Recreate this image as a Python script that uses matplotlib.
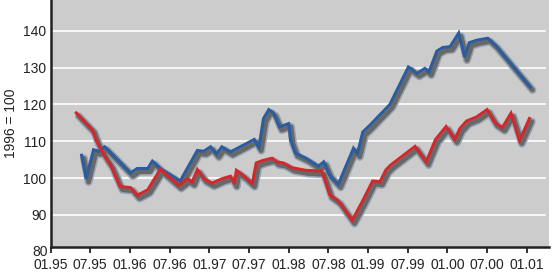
import numpy as np
import matplotlib
matplotlib.use('Agg')
import matplotlib.pyplot as plt
from matplotlib.transforms import offset_copy

plt.rcParams['font.family'] = ['Liberation Sans', 'DejaVu Sans']

# months since January 1995
blue_x = [4.7, 5.4, 6.5, 7.3, 8.2, 12.1, 13.1, 14.7, 15.4, 16.6, 19.6, 22.2, 23.2, 24.2,
          25.1, 25.9, 27.2, 30.8, 31.5, 32.2, 33.0, 33.7, 34.6, 36.0, 36.3, 37.0, 38.7,
          40.5, 41.3, 42.1, 43.5, 45.8, 46.4, 47.2, 48.3, 51.3, 54.1, 55.4, 56.6, 57.2,
          58.4, 59.3, 60.4, 61.7, 62.6, 63.3, 64.5, 66.1, 67.2, 72.5]
blue_y = [106.2, 99.8, 107.7, 107.3, 108.5, 101.4, 102.6, 102.6, 104.6, 102.6, 99.2, 107.5,
          107.3, 108.5, 106.5, 108.5, 107.1, 110.5, 108.3, 116.2, 118.6, 117.7, 113.9, 114.8,
          110.3, 106.8, 105.3, 103.2, 104.4, 101.0, 98.3, 108.1, 106.6, 112.5, 114.4, 120.0,
          130.2, 128.5, 129.8, 128.8, 134.5, 135.5, 135.7, 139.4, 132.9, 136.8, 137.5, 138.0,
          136.2, 124.8]

red_x = [3.9, 6.3, 6.9, 7.7, 8.3, 9.1, 10.5, 12.1, 13.1, 14.7, 16.6, 19.4, 20.7, 21.4, 22.2,
         23.2, 24.4, 25.9, 27.2, 27.8, 28.1, 29.3, 30.5, 31.1, 32.1, 33.5, 34.2, 35.2, 36.5,
         38.6, 41.0, 41.5, 42.2, 43.5, 45.6, 47.1, 48.7, 49.8, 50.7, 51.4, 55.1, 56.8, 58.2,
         59.8, 61.1, 61.9, 62.9, 64.4, 66.0, 67.2, 68.3, 69.6, 70.9, 72.4]
red_y = [117.7, 113.2, 110.3, 107.5, 105.7, 103.5, 97.7, 97.4, 95.3, 96.8, 102.4, 98.0, 99.8,
         98.9, 102.3, 99.8, 98.6, 99.8, 100.5, 98.5, 102.1, 100.5, 98.5, 104.1, 104.8, 105.4,
         104.4, 104.1, 102.8, 102.1, 101.9, 99.4, 95.5, 93.8, 88.5, 93.5, 99.2, 99.0, 102.2,
         103.5, 108.6, 104.4, 110.5, 114.0, 110.5, 113.5, 115.5, 116.6, 118.6, 115.0, 113.7,
         117.6, 110.2, 116.2]

tick_months = list(range(0, 73, 6))
tick_labels = ['01.95', '07.95', '01.96', '07.96', '01.97', '07.97', '01.98', '07.98',
               '01.99', '07.99', '01.00', '07.00', '01.01']
y_ticks = [90, 100, 110, 120, 130, 140]

W, H = 553, 280
fs = 10
fig = plt.figure(figsize=(W / 100, H / 100), dpi=100)
ax = fig.add_axes([50.5 / W, (H - 246.5) / H, (549.3 - 50.5) / W, 246.5 / H])
ax.set_facecolor('#cccccc')
ax.set_xlim(0, 75.4)
ax.set_ylim(81.4, 148.4)

for yv in y_ticks:
    ax.axhline(yv, xmin=0.006, xmax=0.991, color='white', lw=1.2, zorder=1)

# drop shadows
shadow = offset_copy(ax.transData, fig=fig, x=2.4, y=-3.2, units='dots')
for xs, ys in [(blue_x, blue_y), (red_x, red_y)]:
    ax.plot(xs, ys, color='#97a3b2', lw=5.6, transform=shadow, zorder=2,
            solid_joinstyle='round', solid_capstyle='round')
for xs, ys in [(blue_x, blue_y), (red_x, red_y)]:
    ax.plot(xs, ys, color='#686868', lw=3.4, transform=shadow, zorder=3,
            solid_joinstyle='round', solid_capstyle='round')

ax.plot(blue_x, blue_y, color='#2b5d9e', lw=2.2, zorder=4, solid_joinstyle='miter')
ax.plot(red_x, red_y, color='#d3282b', lw=2.2, zorder=5, solid_joinstyle='miter')

ax.set_xticks(tick_months)
ax.set_xticklabels(tick_labels)
ax.set_yticks(y_ticks)
ax.tick_params(axis='x', length=4.5, width=1.3, color='#222222', pad=3.5,
               labelsize=fs, labelcolor='#222222')
ax.tick_params(axis='y', length=0, pad=3, labelsize=fs, labelcolor='#222222')
ax.text(-0.006, 80, '80', transform=ax.get_yaxis_transform(), ha='right', va='center',
        fontsize=fs, color='#222222', clip_on=False)

for s in ['top', 'right']:
    ax.spines[s].set_visible(False)
for s in ['left', 'bottom']:
    ax.spines[s].set_color('#222222')
    ax.spines[s].set_linewidth(1.8)

ax.set_ylabel('1996 = 100', fontsize=fs, color='#222222', labelpad=4)

fig.savefig('out.png', dpi=100)
